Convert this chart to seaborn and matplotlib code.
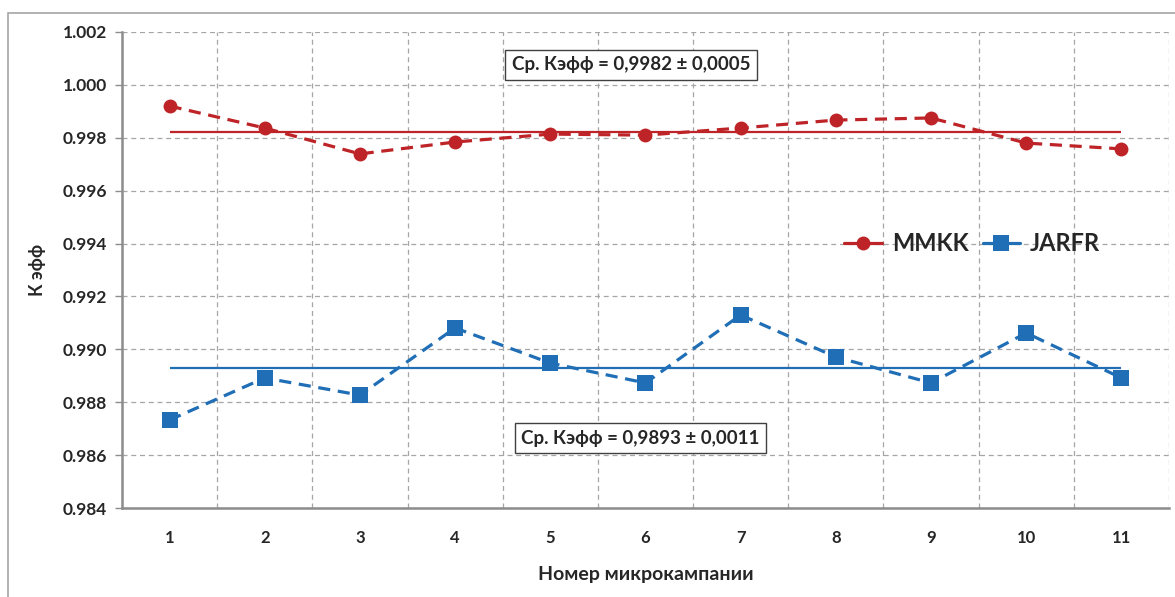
import numpy as np
import pandas as pd
import matplotlib
matplotlib.use('Agg')
import matplotlib.pyplot as plt
import seaborn as sns
from matplotlib.patches import Rectangle

# данные
campaigns = [1, 2, 3, 4, 5, 6, 7, 8, 9, 10, 11]
mmkk = [0.9992, 0.99837, 0.99739, 0.99784, 0.99814, 0.99810, 0.99837, 0.99867, 0.99875, 0.99780, 0.99758]
jarfr = [0.98733, 0.98892, 0.98827, 0.99081, 0.98948, 0.98873, 0.99130, 0.98971, 0.98873, 0.99062, 0.98892]
mmkk_mean = 0.9982
jarfr_mean = 0.9893
mmkk_text = 'Ср. Кэфф = 0,9982 ± 0,0005'
jarfr_text = 'Ср. Кэфф = 0,9893 ± 0,0011'
y_ticks = [0.984, 0.986, 0.988, 0.990, 0.992, 0.994, 0.996, 0.998, 1.000, 1.002]

red = '#BE2427'
blue = '#1F6EB6'

sns.set_style('white')
plt.rcParams['font.family'] = ['Lato', 'Open Sans', 'DejaVu Sans']
plt.rcParams['font.weight'] = 'bold'

fig = plt.figure(figsize=(11.75, 5.97), dpi=100)
ax = fig.add_axes([0.1038, 0.149, 0.8911, 0.7974])

df = pd.DataFrame({'campaign': campaigns, 'MMKK': mmkk, 'JARFR': jarfr})

dash = (0, (3.8, 2.4))
sns.lineplot(data=df, x='campaign', y='MMKK', ax=ax, color=red, linestyle=dash,
             linewidth=2.3, marker='o', markersize=10, markeredgewidth=0,
             label='MMKK')
sns.lineplot(data=df, x='campaign', y='JARFR', ax=ax, color=blue, linestyle=dash,
             linewidth=2.3, marker='s', markersize=11, markeredgewidth=0,
             label='JARFR')

# средние значения
ax.hlines(mmkk_mean, campaigns[0], campaigns[-1], color=red, linewidth=1.6, zorder=1)
ax.hlines(jarfr_mean, campaigns[0], campaigns[-1], color=blue, linewidth=1.6, zorder=1)

ax.set_xlim(campaigns[0] - 0.5, campaigns[-1] + 0.5)
ax.set_ylim(y_ticks[0], y_ticks[-1])
ax.set_yticks(y_ticks)
ax.set_yticklabels([f'{v:.3f}' for v in y_ticks], fontsize=12.5, fontweight='bold')
ax.set_xticks(campaigns)
ax.set_xticklabels([str(c) for c in campaigns], fontsize=12, fontweight='bold')
ax.set_xticks([c + 0.5 for c in campaigns], minor=True)

ax.grid(True, which='major', axis='y', linestyle=(0, (4, 3)), color='#A6A6A6', linewidth=0.9)
ax.grid(True, which='minor', axis='x', linestyle=(0, (4, 3)), color='#A6A6A6', linewidth=0.9)
ax.grid(False, which='major', axis='x')
ax.tick_params(axis='x', which='both', length=0, pad=16)
ax.tick_params(axis='y', which='major', length=5, width=1, color='#8C8C8C', left=True, direction='out', pad=6)

for s in ['top', 'right']:
    ax.spines[s].set_visible(False)
for s in ['left', 'bottom']:
    ax.spines[s].set_color('#8C8C8C')
    ax.spines[s].set_linewidth(1.8)

ax.set_xlabel('Номер микрокампании', fontsize=14, fontweight='bold', labelpad=14)
ax.set_ylabel('К эфф', fontsize=13, fontweight='bold', labelpad=12)

box = dict(boxstyle='square,pad=0.35', facecolor='white', edgecolor='#404040', linewidth=1)
ax.text(0.486, 0.931, mmkk_text, transform=ax.transAxes, ha='center', va='center',
        fontsize=13.5, fontweight='bold', bbox=box)
ax.text(0.495, 0.147, jarfr_text, transform=ax.transAxes, ha='center', va='center',
        fontsize=13.5, fontweight='bold', bbox=box)

leg = ax.legend(loc='center', bbox_to_anchor=(0.812, 0.555), ncol=2, frameon=False,
                prop={'size': 17, 'weight': 'bold'}, handlelength=1.6,
                handletextpad=0.4, columnspacing=0.6)
for h in leg.get_lines():
    h.set_linestyle('-')

# рамка вокруг области диаграммы
fig.patches.append(Rectangle((0.007, -0.01), 1.0, 0.988, transform=fig.transFigure,
                             fill=False, edgecolor='#A6A6A6', linewidth=1.2))

fig.savefig('out.png', dpi=100)
